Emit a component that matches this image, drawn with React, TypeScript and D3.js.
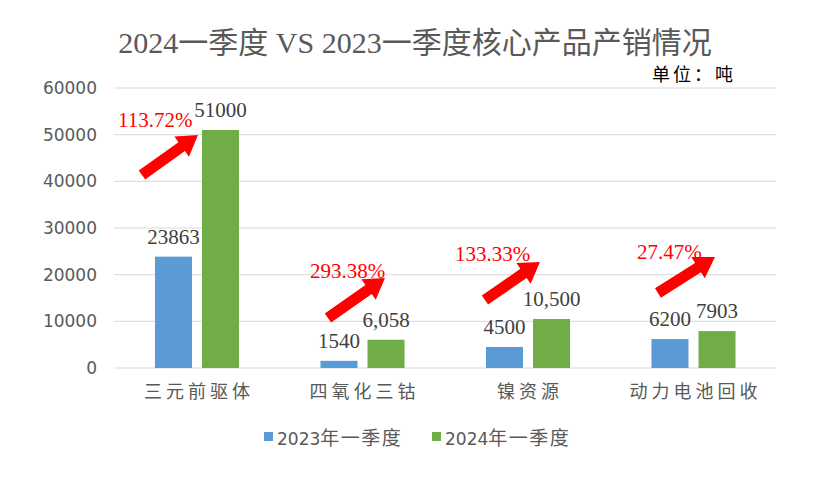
import React from "react";
import * as d3 from "d3";

const categories = ["三元前驱体", "四氧化三钴", "镍资源", "动力电池回收"];
const seriesNames = ["2023年一季度", "2024年一季度"];
const values2023 = [23863, 1540, 4500, 6200];
const values2024 = [51000, 6058, 10500, 7903];
const labels2023 = ["23863", "1540", "4500", "6200"];
const labels2024 = ["51000", "6,058", "10,500", "7903"];
const growthLabels = ["113.72%", "293.38%", "133.33%", "27.47%"];
// arrow annotations: offsets from band start (px) and values (data units)
const arrowTailDx = [-13, 7.5, -1, 6.5];
const arrowTailValue = [41357, 10714, 14571, 16071];
const arrowTipDx = [43, 64.5, 54, 63.5];
const arrowTipValue = [49929, 19286, 22714, 23786];
const growthLabelDx = [-37, -10.5, -31, -14.5];
const growthLabelValue = [51643, 19286, 22929, 23357];
const yTicks = [0, 10000, 20000, 30000, 40000, 50000, 60000];

const colors = ["#5B9BD5", "#70AD47"];
const W = 834;
const H = 481;

function arrowPath(x1: number, y1: number, x2: number, y2: number) {
  const dx = x2 - x1;
  const dy = y2 - y1;
  const L = Math.sqrt(dx * dx + dy * dy);
  const ux = dx / L;
  const uy = dy / L;
  const nx = -uy;
  const ny = ux;
  const hl = 20;
  const sw = 5.5;
  const hw = 12.5;
  const pt = (a: number, b: number) => [x1 + ux * a + nx * b, y1 + uy * a + ny * b];
  const pts = [
    pt(0, -sw),
    pt(L - hl, -sw),
    pt(L - hl, -hw),
    pt(L, 0),
    pt(L - hl, hw),
    pt(L - hl, sw),
    pt(0, sw),
  ];
  return d3.line()(pts as [number, number][]) + "Z";
}

export default function App() {
  const x0 = d3
    .scaleBand<string>()
    .domain(categories)
    .range([114.25, 776.25])
    .paddingInner(0.492)
    .paddingOuter(0.246);
  const x1 = d3
    .scaleBand<string>()
    .domain(seriesNames)
    .range([0, x0.bandwidth()])
    .paddingInner(0.213);
  const y = d3.scaleLinear().domain([0, 60000]).range([368, 88]);
  const seriesVals = [values2023, values2024];
  const seriesLabels = [labels2023, labels2024];

  return (
    <svg width={W} height={H} style={{ display: "block", position: "absolute", left: 0, top: 0 }}>
      <rect x={0} y={0} width={W} height={H} fill="#fff" />
      <text
        x={415}
        y={53}
        textAnchor="middle"
        fontFamily="'Liberation Serif', 'Noto Sans CJK SC', serif"
        fontSize={30}
        fill="#595959"
      >
        2024一季度 VS 2023一季度核心产品产销情况
      </text>
      <text
        x={652}
        y={81}
        fontFamily="'Noto Sans CJK SC', sans-serif"
        fontSize={18}
        letterSpacing={3}
        fill="#000"
      >
        单位：吨
      </text>
      {yTicks.map((t) => (
        <g key={t}>
          <line x1={114} x2={776} y1={y(t)} y2={y(t)} stroke="#d9d9d9" strokeWidth={1} />
          <text
            x={97}
            y={y(t)}
            dy="0.35em"
            textAnchor="end"
            fontFamily="'DejaVu Sans', sans-serif"
            fontSize={17}
            fill="#595959"
          >
            {t}
          </text>
        </g>
      ))}
      {categories.map((c, i) => (
        <g key={c}>
          {seriesNames.map((s, j) => {
            const v = seriesVals[j][i];
            const bx = (x0(c) as number) + (x1(s) as number);
            return (
              <g key={s}>
                <rect x={bx} y={y(v)} width={x1.bandwidth()} height={y(0) - y(v)} fill={colors[j]} />
                <text
                  x={bx + x1.bandwidth() / 2}
                  y={y(v) - 13}
                  textAnchor="middle"
                  fontFamily="'Liberation Serif', serif"
                  fontSize={21}
                  fill="#404040"
                >
                  {seriesLabels[j][i]}
                </text>
              </g>
            );
          })}
          <text
            x={(x0(c) as number) + x0.bandwidth() / 2 + 2}
            y={398}
            textAnchor="middle"
            fontFamily="'Noto Sans CJK SC', sans-serif"
            fontSize={18}
            letterSpacing={4}
            fill="#595959"
          >
            {c}
          </text>
          <path
            d={arrowPath(
              (x0(c) as number) + arrowTailDx[i],
              y(arrowTailValue[i]),
              (x0(c) as number) + arrowTipDx[i],
              y(arrowTipValue[i])
            )}
            fill="#FF0000"
          />
          <text
            x={(x0(c) as number) + growthLabelDx[i]}
            y={y(growthLabelValue[i])}
            fontFamily="'Liberation Serif', serif"
            fontSize={21}
            fill="#FF0000"
          >
            {growthLabels[i]}
          </text>
        </g>
      ))}
      {seriesNames.map((s, j) => {
        const lx = [264, 432][j];
        return (
          <g key={s}>
            <rect x={lx} y={432} width={9} height={9} fill={colors[j]} />
            <text x={lx + 13} y={445} fontFamily="'DejaVu Sans', sans-serif" fontSize={17} fill="#595959">
              <tspan>{s.slice(0, 4)}</tspan>
              <tspan fontFamily="'Noto Sans CJK SC', sans-serif" fontSize={19} letterSpacing={1.5}>
                {s.slice(4)}
              </tspan>
            </text>
          </g>
        );
      })}
    </svg>
  );
}
